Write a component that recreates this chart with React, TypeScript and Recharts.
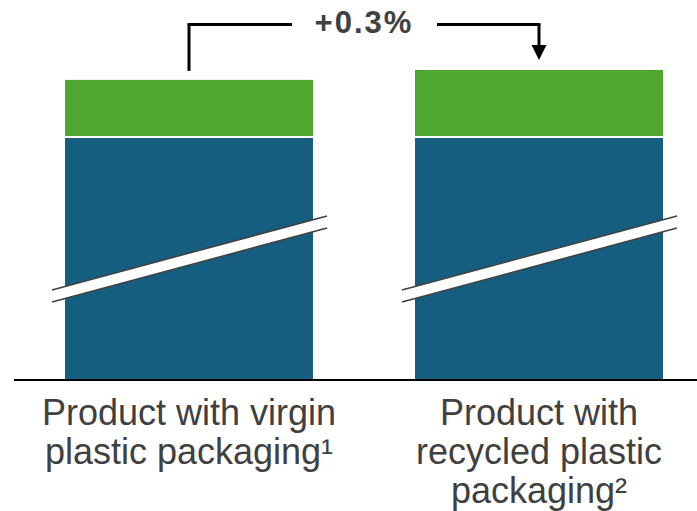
import React from "react";
import { BarChart, Bar, XAxis, YAxis, ReferenceLine, ReferenceDot } from "recharts";

const categories = ["virgin", "recycled"];
const baseValues = [100, 100];
const topValues = [23.5, 27.6];
const tickLines = [
  ["Product with virgin", "plastic packaging¹"],
  ["Product with", "recycled plastic", "packaging²"],
];
const changeLabel = "+0.3%";
const bracketTop = 146.3;
const bracketLeftEnd = 127.2;
const arrowTip = 131.7;
const arrowLineEnd = 137.6;

const data = categories.map((c, i) => ({ name: c, base: baseValues[i], top: topValues[i] }));

const BLUE = "#165E80";
const GREEN = "#4EA72E";
const TEXT = "#404040";

const BaseShape = (props: any) => {
  const { x, y, width, height } = props;
  const bottom = y + height;
  const lx = x - 13;
  const rx = x + width + 14;
  return (
    <g>
      <rect x={x} y={y + 1} width={width} height={height - 1} fill={BLUE} />
      <polygon
        points={`${lx},${bottom - 90} ${rx},${bottom - 164} ${rx},${bottom - 152} ${lx},${bottom - 78}`}
        fill="#fff"
      />
      <line x1={lx} y1={bottom - 90} x2={rx} y2={bottom - 164} stroke="#404040" strokeWidth={1.5} />
      <line x1={lx} y1={bottom - 78} x2={rx} y2={bottom - 152} stroke="#404040" strokeWidth={1.5} />
    </g>
  );
};

const TopShape = (props: any) => {
  const { x, y, width, height } = props;
  return <rect x={x} y={y} width={width} height={height - 1} fill={GREEN} />;
};

const Tick = (props: any) => {
  const { x, y, index } = props;
  const lines = tickLines[index] || [];
  return (
    <g>
      {lines.map((l, i) => (
        <text
          key={i}
          x={x}
          y={y + 45 + i * 39}
          textAnchor="middle"
          fill={TEXT}
          fontSize={36}
          fontFamily="Liberation Sans, Arial, sans-serif"
        >
          {l}
        </text>
      ))}
    </g>
  );
};

const ChangeLabel = (props: any) => {
  const vb = props.viewBox || {};
  const cx = vb.x + vb.width / 2;
  const cy = vb.y + (vb.height || 0) / 2;
  return (
    <g>
      <rect x={cx - 72} y={cy - 6} width={145} height={12} fill="#fff" />
      <text
        x={cx}
        y={cy + 9}
        textAnchor="middle"
        fill={TEXT}
        fontSize={31}
        fontWeight="bold"
        letterSpacing={2}
        fontFamily="Liberation Sans, Arial, sans-serif"
      >
        {changeLabel}
      </text>
    </g>
  );
};

const Arrow = (props: any) => {
  const { cx, cy } = props;
  return <polygon points={`${cx - 7.5},${cy - 15} ${cx + 7.5},${cy - 15} ${cx},${cy}`} fill="#000" />;
};

export default function App() {
  return (
    <div style={{ width: 697, height: 511, overflow: "hidden" }}>
      <style>{"body{margin:0}"}</style>
      <BarChart
        width={697}
        height={511}
        data={data}
        margin={{ top: 15.5, right: -17, bottom: 0, left: 14 }}
        barSize={248}
        style={{ fontFamily: "Liberation Sans, Arial, sans-serif" }}
      >
        <XAxis
          dataKey="name"
          height={131}
          axisLine={{ stroke: "#000", strokeWidth: 2 }}
          tickLine={false}
          tickSize={0}
          tickMargin={0}
          interval={0}
          tick={<Tick />}
        />
        <YAxis hide domain={[0, 150]} />
        <Bar dataKey="base" stackId="a" shape={<BaseShape />} isAnimationActive={false} />
        <Bar dataKey="top" stackId="a" shape={<TopShape />} isAnimationActive={false} />
        <ReferenceLine
          segment={[
            { x: "virgin", y: bracketTop },
            { x: "recycled", y: bracketTop },
          ]}
          stroke="#000"
          strokeWidth={3}
          strokeLinecap="square"
          label={<ChangeLabel />}
        />
        <ReferenceLine
          segment={[
            { x: "virgin", y: bracketLeftEnd },
            { x: "virgin", y: bracketTop },
          ]}
          stroke="#000"
          strokeWidth={3}
        />
        <ReferenceLine
          segment={[
            { x: "recycled", y: bracketTop },
            { x: "recycled", y: arrowLineEnd },
          ]}
          stroke="#000"
          strokeWidth={3}
        />
        <ReferenceDot x="recycled" y={arrowTip} r={0} shape={<Arrow />} />
      </BarChart>
    </div>
  );
}
